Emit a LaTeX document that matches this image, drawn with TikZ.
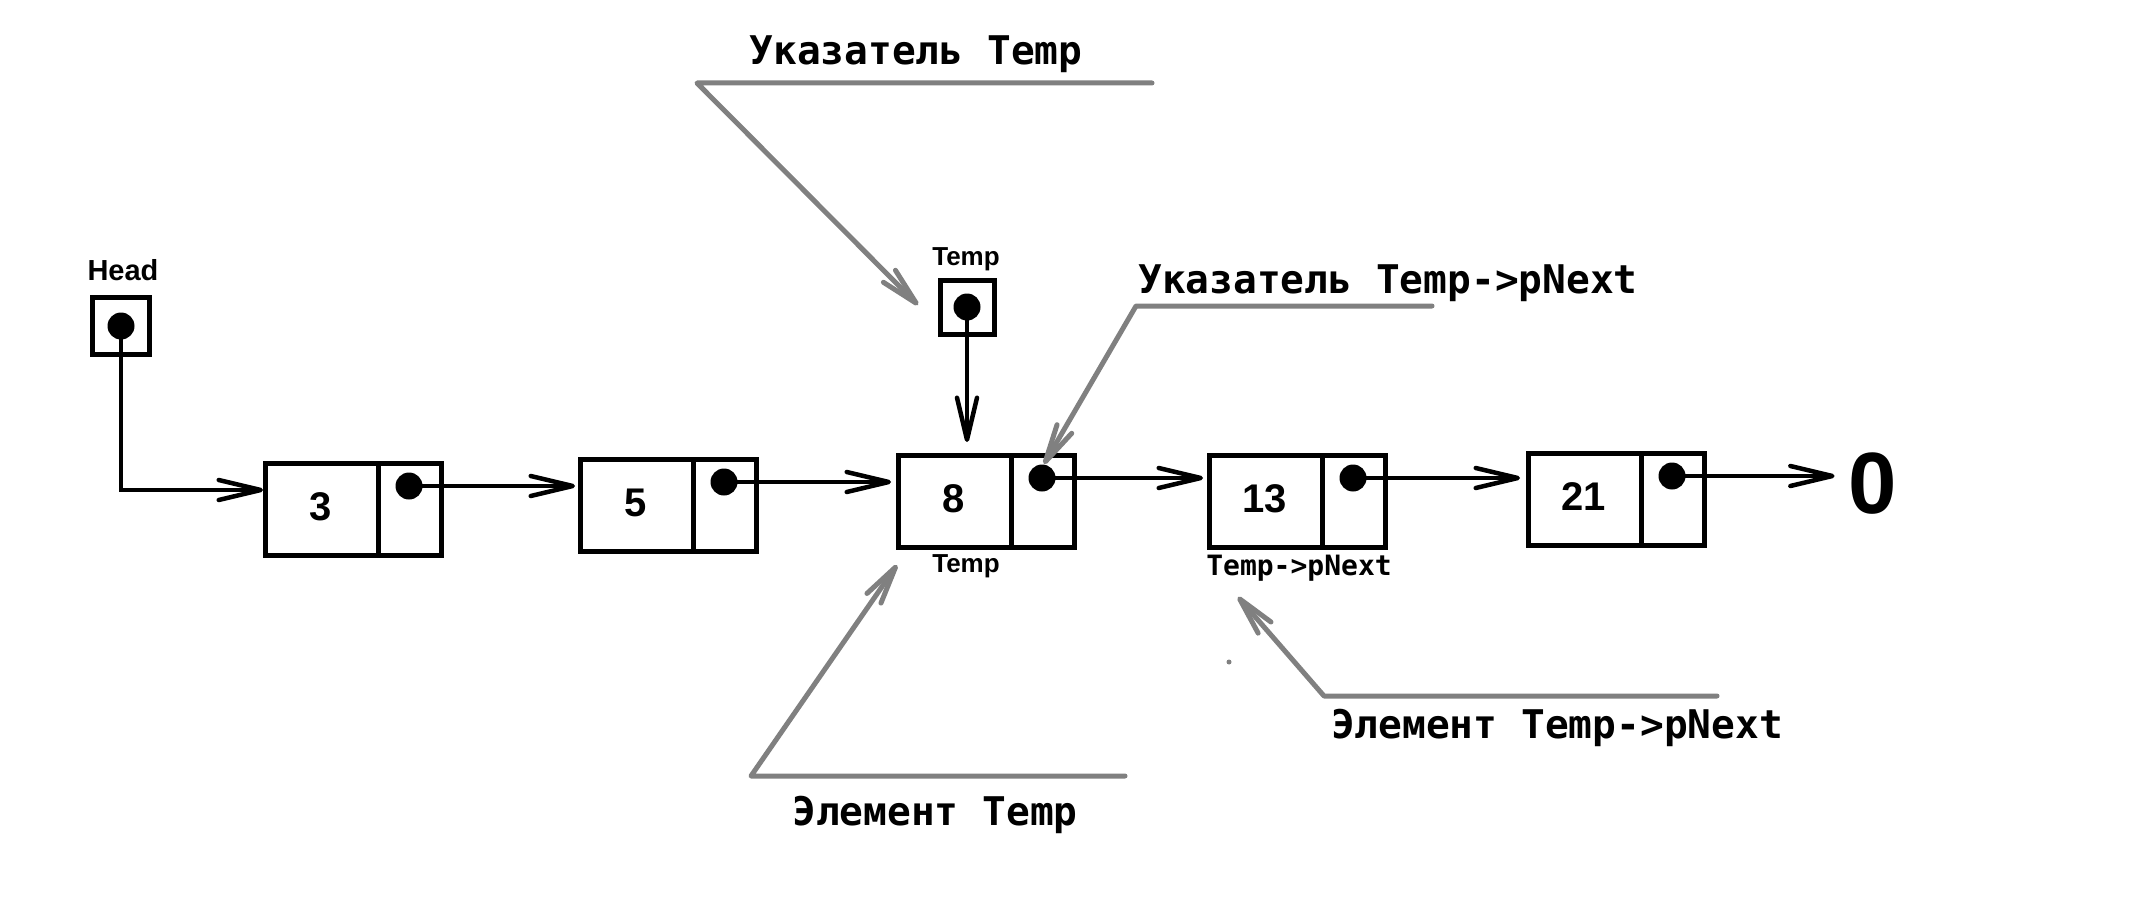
\documentclass[tikz,border=0pt]{standalone}
\usepackage{fontspec}
\setmainfont{Liberation Sans}
\newfontfamily\monofnt{DejaVu Sans Mono}
\usetikzlibrary{arrows.meta,calc}

\definecolor{callout}{HTML}{808080}

\tikzset{
  cell/.style={draw, line width=5pt, minimum width=176pt, minimum height=92pt,
    anchor=north west, inner sep=0pt},
  ptrbox/.style={draw, line width=5pt, minimum size=#1, inner sep=0pt},
  ptrbox/.default=56pt,
  dot/.style={circle, fill, inner sep=0pt, minimum size=27pt},
  link/.style={line width=4.5pt, line cap=round,
    -{Straight Barb[length=42pt,width=20pt,round]}},
  note/.style={draw=callout, line width=5pt, line cap=round, line join=round,
    -{Straight Barb[length=38pt,width=17pt,round]}},
  val/.style={font=\fontsize{40}{44}\selectfont\bfseries, inner sep=0pt},
  tag/.style={font=\fontsize{26}{30}\selectfont\bfseries, anchor=base, inner sep=0pt},
  monotag/.style={font=\fontsize{28}{32}\selectfont\monofnt\bfseries, anchor=base, inner sep=0pt},
  caption/.style={font=\fontsize{39.5}{44}\selectfont\monofnt\bfseries, anchor=base, inner sep=0pt},
}

\begin{document}
\begin{tikzpicture}[x=1pt, y=-1pt]
\useasboundingbox (0,0) rectangle (2154,912);
\fill[white] (0,0) rectangle (2154,912);

% list elements: value cell + pointer cell with a dot
\foreach \name/\x/\y/\v in {n3/263/461/3, n5/578/457/5, n8/896/453/8, n13/1207/453/13, n21/1526/451/21} {
  \node[cell] (\name) at (\x,\y) {};
  \draw[line width=5pt] ($(\name.north west)+(115,0)$) -- ($(\name.south west)+(115,0)$);
  \node[val] (v\name) at ($(\name.north west)+(57.5,46)$) {\v};
  \node[dot] (p\name) at ($(\name.north west)+(146,25)$) {};
}

% end of list
\node[font=\fontsize{87}{90}\selectfont\bfseries, inner sep=0pt] (null) at (1873,484) {0};

% links between elements
\draw[link, shorten >=3pt] (pn3.center) -- (pn3.center -| n5.west);
\draw[link, shorten >=5pt] (pn5.center) -- (pn5.center -| n8.west);
\draw[link, shorten >=4pt] (pn8.center) -- (pn8.center -| n13.west);
\draw[link, shorten >=6pt] (pn13.center) -- (pn13.center -| n21.west);
\draw[link, shorten >=14pt] (pn21.center) -- (pn21.center -| null.west);

% Head pointer
\node[tag, font=\fontsize{29}{32}\selectfont\bfseries] (headlbl) at (123,280) {Head};
\node[ptrbox=57pt] (head) at (121,326) {};
\node[dot] (headp) at (head.center) {};
\coordinate (headin) at ($(n3.north west)+(0,29)$);
\draw[link] (headp.center) |- (headin);

% Temp pointer
\node[tag] (templbl) at (966,265) {Temp};
\node[ptrbox=54pt] (temp) at (967,307) {};
\node[dot] (tempp) at (temp.center) {};
\coordinate (tempin) at ($(tempp.center |- n8.north)+(0,-11)$);
\draw[link] (tempp.center) -- (tempin);

% names under the elements
\node[tag] (curlbl) at (966,572) {Temp};
\node[monotag] (nextlbl) at (1299,575) {Temp->pNext};

% callouts
\node[caption] (cap1) at (916,65) {Указатель Temp};
\coordinate (c1b) at (1152,83);
\coordinate (c1a) at (697,83);
\coordinate (c1t) at (918,305);
\draw[note] (c1b) -- (c1a) -- (c1t);

\node[caption] (cap2) at (1388,293) {Указатель Temp->pNext};
\coordinate (c2b) at (1432,306);
\coordinate (c2a) at (1136,306);
\coordinate (c2t) at (1044,464);
\draw[note] (c2b) -- (c2a) -- (c2t);

\node[caption] (cap3) at (935,825) {Элемент Temp};
\coordinate (c3b) at (1125,776);
\coordinate (c3a) at (751,776);
\coordinate (c3t) at (897,565);
\draw[note] (c3b) -- (c3a) -- (c3t);

\node[caption] (cap4) at (1557,738) {Элемент Temp->pNext};
\coordinate (c4b) at (1717,696);
\coordinate (c4a) at (1324,696);
\coordinate (c4t) at (1238,597);
\draw[note] (c4b) -- (c4a) -- (c4t);

% small stray mark
\fill[callout] (1229,662) circle (2.5pt);
\end{tikzpicture}
\end{document}
